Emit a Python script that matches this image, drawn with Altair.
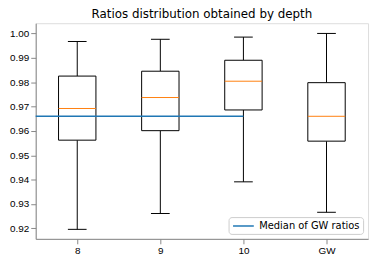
import json
import altair as alt
import pandas as pd

categories = ["8", "9", "10", "GW"]
positions = [1, 2, 3, 4]
whisker_low = [0.9196, 0.9261, 0.9391, 0.9266]
q1 = [0.9562, 0.9601, 0.9686, 0.9558]
median = [0.9692, 0.9737, 0.9804, 0.9660]
q3 = [0.9825, 0.9845, 0.9890, 0.9798]
whisker_high = [0.9967, 0.9976, 0.9985, 1.0000]

gw_median = 0.9660
line_x = [0.5, 3.0]
legend_label = "Median of GW ratios"
y_ticks = [0.92, 0.93, 0.94, 0.95, 0.96, 0.97, 0.98, 0.99, 1.00]

box_half = 0.225
cap_half = 0.1125
FONT = "DejaVu Sans"

df = pd.DataFrame({
    "pos": positions, "cat": categories, "low": whisker_low, "q1": q1,
    "med": median, "q3": q3, "high": whisker_high,
})
line_df = pd.DataFrame({"x": [line_x[0]], "x2": [line_x[1]], "y": [gw_median], "s": [legend_label]})

label_expr = "%s[datum.value - 1]" % json.dumps(categories)
xscale = alt.Scale(domain=[0.5, 4.5], nice=False, zero=False)
yscale = alt.Scale(domain=[0.9157, 1.0042], nice=False, zero=False)
xaxis = alt.Axis(values=positions, labelExpr=label_expr, title=None, grid=False, labelOverlap=False)
yaxis = alt.Axis(values=y_ticks, format=".2f", title=None, grid=False, labelOverlap=False)

base = alt.Chart(df).transform_calculate(
    xl=f"datum.pos - {box_half}", xr=f"datum.pos + {box_half}",
    cl=f"datum.pos - {cap_half}", cr=f"datum.pos + {cap_half}",
)

lower_whisker = base.mark_rule(color="black", strokeWidth=1).encode(
    x=alt.X("pos:Q", scale=xscale, axis=xaxis),
    y=alt.Y("low:Q", scale=yscale, axis=yaxis), y2="q1:Q")
upper_whisker = base.mark_rule(color="black", strokeWidth=1).encode(
    x=alt.X("pos:Q", scale=xscale, axis=xaxis),
    y=alt.Y("q3:Q", scale=yscale, axis=yaxis), y2="high:Q")
low_cap = base.mark_rule(color="black", strokeWidth=1).encode(
    x=alt.X("cl:Q", scale=xscale, axis=xaxis), x2="cr:Q",
    y=alt.Y("low:Q", scale=yscale, axis=yaxis))
high_cap = base.mark_rule(color="black", strokeWidth=1).encode(
    x=alt.X("cl:Q", scale=xscale, axis=xaxis), x2="cr:Q",
    y=alt.Y("high:Q", scale=yscale, axis=yaxis))
box = base.mark_bar(fill="white", stroke="black", strokeWidth=1).encode(
    x=alt.X("xl:Q", scale=xscale, axis=xaxis), x2="xr:Q",
    y=alt.Y("q1:Q", scale=yscale, axis=yaxis), y2="q3:Q")
med = base.mark_rule(color="#ff7f0e", strokeWidth=1).encode(
    x=alt.X("xl:Q", scale=xscale, axis=xaxis), x2="xr:Q",
    y=alt.Y("med:Q", scale=yscale, axis=yaxis))

gw_line = alt.Chart(line_df).mark_rule(strokeWidth=1.5).encode(
    x=alt.X("x:Q", scale=xscale, axis=xaxis), x2="x2:Q",
    y=alt.Y("y:Q", scale=yscale, axis=yaxis),
    color=alt.Color("s:N", scale=alt.Scale(domain=[legend_label], range=["#1f77b4"]),
                    legend=alt.Legend(title=None, orient="bottom-right", offset=5,
                                      symbolType="M-2,0H2", symbolSize=110,
                                      symbolOffset=6,
                                      symbolStrokeWidth=1.5, labelFont=FONT,
                                      labelFontSize=10, labelColor="black",
                                      fillColor="white", strokeColor="#cccccc",
                                      padding=3, cornerRadius=3, labelOffset=10)))

chart = alt.layer(lower_whisker, upper_whisker, low_cap, high_cap, box, med, gw_line).properties(
    width=336, height=218,
    title=alt.TitleParams("Ratios distribution obtained by depth", font=FONT, fontSize=12,
                          fontWeight="normal", color="black", offset=2),
    autosize=alt.AutoSizeParams(type="none"),
    padding={"left": 28, "top": 14, "right": 5, "bottom": 20},
).configure_view(stroke="black", strokeWidth=1).configure_axis(
    labelFont=FONT, labelFontSize=10, labelColor="black", tickColor="black",
    tickSize=3.5, domainColor="black", labelPadding=2,
).configure(background="white")

chart.save("out.html", embed_options={"renderer": "svg", "actions": False})
